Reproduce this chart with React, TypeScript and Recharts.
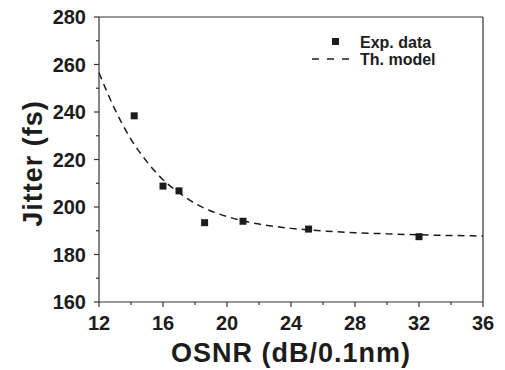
import {
  ComposedChart,
  Label,
  Line,
  ReferenceLine,
  Scatter,
  XAxis,
  YAxis,
} from "recharts";

const expOsnr = [14.2, 16.0, 17.0, 18.6, 21.0, 25.1, 32.0];
const expJitter = [238.4, 208.8, 206.8, 193.4, 194.0, 190.7, 187.5];

const modelOsnr = [12, 13, 14, 15, 16, 17, 18, 19, 20, 21, 22, 23, 24, 25, 26, 28, 30, 32, 34, 36];
const modelJitter = [
  256.5, 241, 228.5, 219, 211.5, 206, 201.5, 198.3, 196, 194.2, 192.8, 191.8, 191, 190.4,
  189.9, 189.2, 188.7, 188.3, 188, 187.8,
];

const xTicks = [12, 14, 16, 18, 20, 22, 24, 26, 28, 30, 32, 34, 36];
const yTicks = [160, 170, 180, 190, 200, 210, 220, 230, 240, 250, 260, 270, 280];

const INK = "#1c1c1c";
const AXIS = "#333";
const FONT = "'Liberation Sans', Arial, sans-serif";

const expData = expOsnr.map((x, i) => ({ x, y: expJitter[i] }));
const modelData = modelOsnr.map((x, i) => ({ x, y: modelJitter[i] }));

function XTick({ x, y, payload }: any) {
  const major = payload.value % 4 === 0;
  return (
    <g>
      <line x1={x} y1={y} x2={x} y2={y + (major ? 5 : 3)} stroke={AXIS} strokeWidth={1.2} />
      {major && (
        <text x={x} y={y + 28} textAnchor="middle" fill={INK} fontSize={20} fontWeight="bold" fontFamily={FONT}>
          {payload.value}
        </text>
      )}
    </g>
  );
}

function YTick({ x, y, payload }: any) {
  const major = payload.value % 20 === 0;
  return (
    <g>
      <line x1={x} y1={y} x2={x - (major ? 5 : 3)} y2={y} stroke={AXIS} strokeWidth={1.2} />
      {major && (
        <text x={x - 13} y={y + 7} textAnchor="end" fill={INK} fontSize={20} fontWeight="bold" fontFamily={FONT}>
          {payload.value}
        </text>
      )}
    </g>
  );
}

function SquareDot({ cx, cy }: any) {
  return <rect x={cx - 3.5} y={cy - 3.5} width={7} height={7} fill={INK} />;
}

// legend drawn as an overlay so it does not take space from the plot
function LegendBox() {
  return (
    <svg
      width={160}
      height={50}
      style={{ position: "absolute", left: 300, top: 28, display: "block" }}
    >
      <rect x={32} y={10} width={7} height={7} fill={INK} />
      <text x={60} y={20} fill={INK} fontSize={16} fontWeight="bold" fontFamily={FONT}>
        Exp. data
      </text>
      <line x1={12} y1={31} x2={50} y2={31} stroke={INK} strokeWidth={1.5} strokeDasharray="7 8" />
      <text x={60} y={37} fill={INK} fontSize={16} fontWeight="bold" fontFamily={FONT}>
        Th. model
      </text>
    </svg>
  );
}

export default function App() {
  return (
    <div style={{ position: "absolute", left: 0, top: 0, width: 505, height: 370, background: "#fff" }}>
      <ComposedChart width={505} height={370} margin={{ top: 17, right: 22, bottom: 0, left: 0 }}>
        <XAxis
          dataKey="x"
          type="number"
          domain={[12, 36]}
          ticks={xTicks}
          interval={0}
          height={68}
          tickSize={0}
          tickMargin={0}
          tickLine={false}
          tick={<XTick />}
          axisLine={{ stroke: AXIS, strokeWidth: 1.2 }}
        >
          <Label
            value="OSNR (dB/0.1nm)"
            position="insideBottom"
            offset={8}
            style={{ fontSize: 27, fontWeight: "bold", fontFamily: FONT, fill: INK, letterSpacing: 1 }}
          />
        </XAxis>
        <YAxis
          type="number"
          domain={[160, 280]}
          ticks={yTicks}
          interval={0}
          width={99}
          tickSize={0}
          tickMargin={0}
          tickLine={false}
          tick={<YTick />}
          axisLine={{ stroke: AXIS, strokeWidth: 1.2 }}
        >
          <Label
            value="Jitter (fs)"
            angle={-90}
            position="insideLeft"
            offset={32}
            dy={4}
            style={{ textAnchor: "middle", fontSize: 27, fontWeight: "bold", fontFamily: FONT, fill: INK, letterSpacing: 1 }}
          />
        </YAxis>
        <ReferenceLine y={280} stroke={AXIS} strokeWidth={1.2} />
        <ReferenceLine x={36} stroke={AXIS} strokeWidth={1.2} />
        <Line
          data={modelData}
          dataKey="y"
          name="Th. model"
          type="monotone"
          stroke={INK}
          strokeWidth={1.5}
          strokeDasharray="7 5"
          dot={false}
          activeDot={false}
          isAnimationActive={false}
        />
        <Scatter
          data={expData}
          dataKey="y"
          name="Exp. data"
          shape={<SquareDot />}
          isAnimationActive={false}
        />
      </ComposedChart>
      <LegendBox />
    </div>
  );
}
